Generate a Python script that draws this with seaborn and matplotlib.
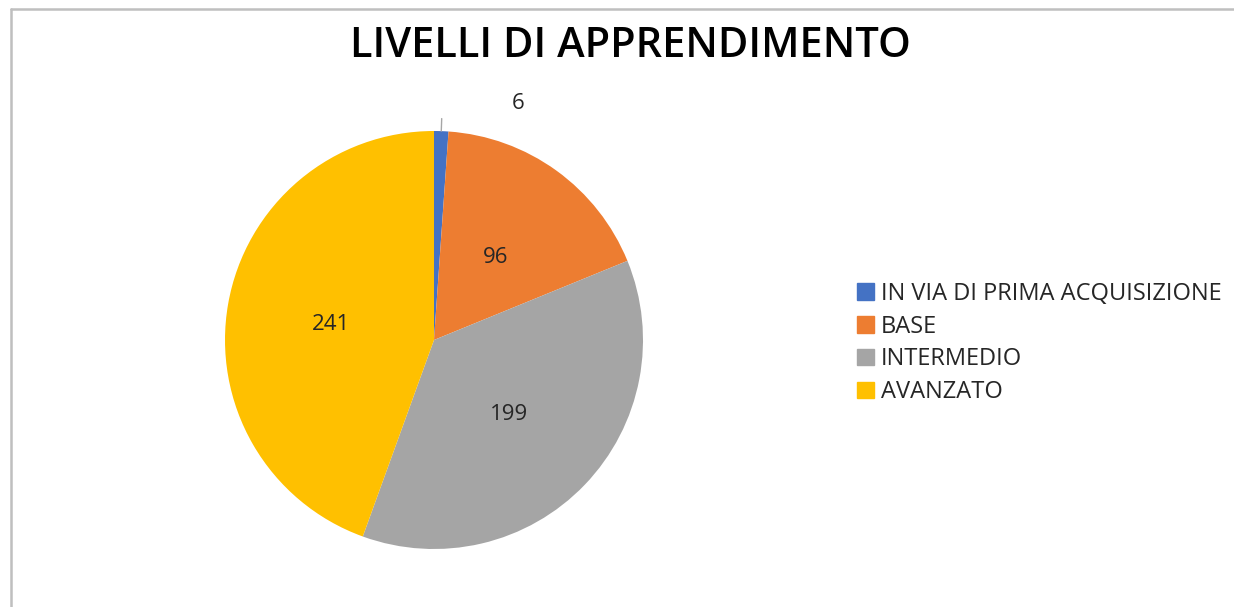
import matplotlib
matplotlib.use("Agg")
import matplotlib.pyplot as plt
import seaborn as sns
import numpy as np

categories = ["IN VIA DI PRIMA ACQUISIZIONE", "BASE", "INTERMEDIO", "AVANZATO"]
values = [6, 96, 199, 241]
colors = ["#4472C4", "#ED7D31", "#A5A5A5", "#FFC000"]
title = "LIVELLI DI APPRENDIMENTO"

sns.set_theme(style="white")
plt.rcParams["font.family"] = ["Open Sans", "DejaVu Sans"]

W, H = 1234, 607
fig = plt.figure(figsize=(W / 100, H / 100), dpi=100)
fig.patch.set_facecolor("white")
fig.patch.set_linewidth(0)

# frame lines (top and left)
fig.add_artist(plt.Line2D([11 / W, 1.01], [1 - 9 / H, 1 - 9 / H], color="#BFBFBF", lw=1.8, transform=fig.transFigure))
fig.add_artist(plt.Line2D([11 / W, 11 / W], [-0.01, 1 - 9 / H], color="#BFBFBF", lw=1.8, transform=fig.transFigure))

cx, cy, r = 434, 340, 209
ax = fig.add_axes([(cx - r) / W, (H - cy - r) / H, 2 * r / W, 2 * r / H])

lab_fs = 16
wedges, texts, autotexts = ax.pie(
    values, colors=colors, startangle=90, counterclock=False,
    autopct=lambda p: f"{p * sum(values) / 100:.0f}", pctdistance=0.5,
    textprops=dict(fontsize=lab_fs, color="#262626"),
    wedgeprops=dict(linewidth=0),
)
for t in autotexts:
    t.set_va("center_baseline")
ax.set_xlim(-1, 1)
ax.set_ylim(-1, 1)
ax.set_aspect("equal")
ax.axis("off")

# small slice label outside with leader line
w0 = wedges[0]
mid = np.deg2rad((w0.theta1 + w0.theta2) / 2)
x0, y0 = np.cos(mid), np.sin(mid)
autotexts[0].set_visible(False)
ax.plot([x0, x0 * 1.06], [y0, y0 * 1.06], color="#A6A6A6", lw=1, clip_on=False)
ax.annotate(autotexts[0].get_text(), xy=(x0, y0), xytext=(77, 28), textcoords="offset pixels",
            ha="center", va="center", fontsize=lab_fs, color="#262626", annotation_clip=False)

fig.text(630 / W, 1 - 46 / H, title, ha="center", va="center", fontsize=30,
         fontweight="semibold", color="black")

handles = [plt.Rectangle((0, 0), 1, 1, color=c) for c in colors]
fig.legend(handles, categories, loc="upper left", bbox_to_anchor=(857 / W, 1 - 282 / H),
           frameon=False, fontsize=17, handlelength=0.7, handleheight=0.7,
           handletextpad=0.3, labelspacing=0.37, borderaxespad=0, borderpad=0,
           labelcolor="#262626")

fig.savefig("out.png", dpi=100, facecolor="white", edgecolor="white")
